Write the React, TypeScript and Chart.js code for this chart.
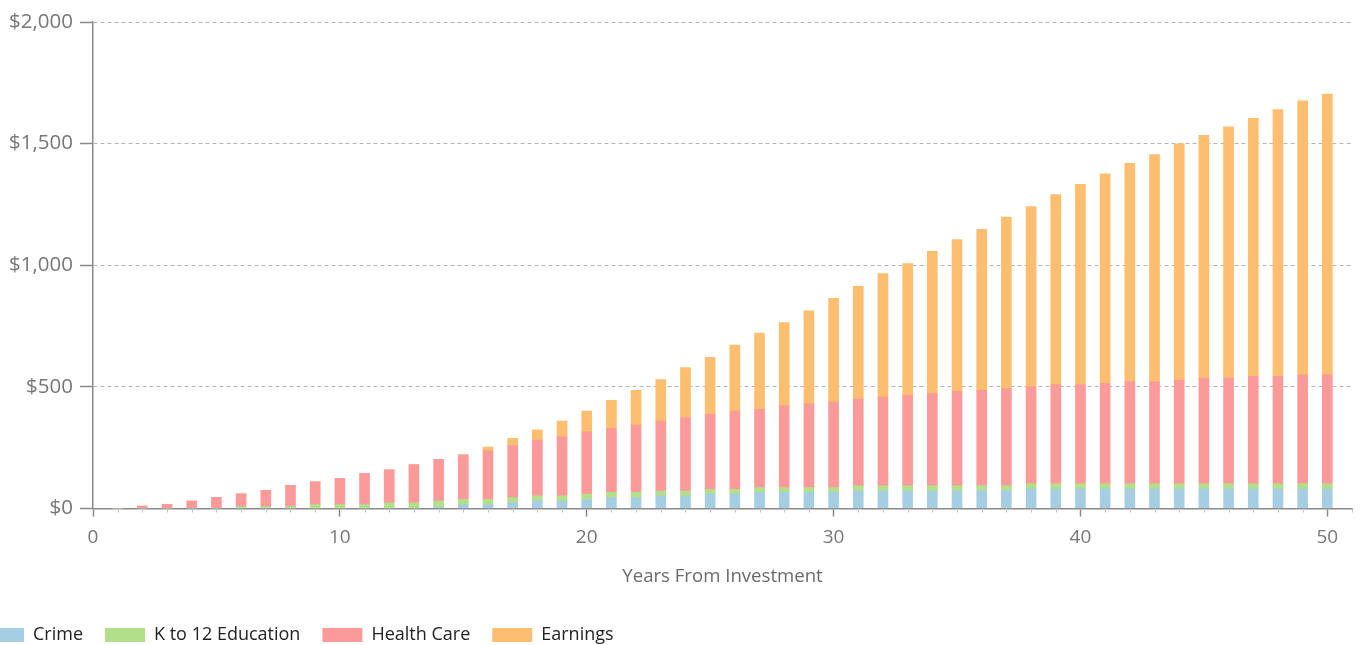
import { useEffect, useRef } from "react";
import { Chart, registerables } from "chart.js";

Chart.register(...registerables);

// Categories: years from investment
const years = [
  1, 2, 3, 4, 5, 6, 7, 8, 9, 10,
  11, 12, 13, 14, 15, 16, 17, 18, 19, 20,
  21, 22, 23, 24, 25, 26, 27, 28, 29, 30,
  31, 32, 33, 34, 35, 36, 37, 38, 39, 40,
  41, 42, 43, 44, 45, 46, 47, 48, 49, 50,
];

// Series values (dollars)
const crime = [
  0, 0, 0, 0, 0, 0, 0, 0, 0, 0,
  0, 0, 0, 6, 16, 16, 23, 30, 30, 37,
  45, 45, 52, 52, 59, 59, 66, 66, 66, 66,
  72, 72, 72, 72, 72, 74, 74, 80, 80, 80,
  80, 80, 80, 80, 80, 80, 80, 80, 80, 80,
];

const k12Education = [
  0, 0, 0, 0, 0, 8, 8, 8, 16, 16,
  16, 23, 23, 24, 22, 22, 22, 22, 22, 22,
  21, 21, 20, 20, 20, 20, 20, 20, 20, 20,
  21, 21, 21, 21, 21, 20, 20, 21, 21, 21,
  21, 21, 21, 21, 21, 21, 21, 21, 21, 21,
];

const healthCare = [
  0, 10, 17, 31, 46, 52, 67, 87, 94, 108,
  129, 136, 158, 172, 182, 199, 214, 229, 243, 256,
  264, 277, 287, 302, 308, 322, 322, 337, 344, 351,
  357, 365, 372, 379, 389, 392, 399, 399, 407, 407,
  414, 421, 421, 427, 435, 435, 442, 442, 449, 449,
];

const earnings = [
  0, 0, 0, 0, 0, 0, 0, 0, 0, 0,
  0, 0, 0, 0, 2, 15, 29, 42, 64, 86,
  115, 143, 171, 205, 234, 271, 313, 341, 383, 427,
  463, 508, 542, 585, 624, 662, 705, 741, 783, 825,
  861, 897, 933, 971, 998, 1033, 1061, 1097, 1126, 1154,
];

const seriesNames = ["Crime", "K to 12 Education", "Health Care", "Earnings"];
const seriesColors = ["#a6cee3", "#b2df8a", "#fb9a99", "#fdbf6f"];

// Axis ticks
const yTickValues = [0, 500, 1000, 1500, 2000];
const xTickValues = [0, 10, 20, 30, 40, 50];
const xAxisMax = 51;
const xAxisTitle = "Years From Investment";

const FONT = "'Open Sans', 'Noto Sans', sans-serif";

const minorTicksPlugin = {
  id: "minorTicks",
  afterDraw(chart: any) {
    const xs = chart.scales.x;
    const ctx = chart.ctx;
    const y0 = chart.chartArea.bottom;
    ctx.save();
    ctx.strokeStyle = "#c4c4c4";
    ctx.lineWidth = 1;
    ctx.beginPath();
    const vals = [...years, xAxisMax];
    for (const v of vals) {
      if (xTickValues.includes(v)) continue;
      const px = Math.round(xs.getPixelForValue(v)) + 0.5;
      ctx.moveTo(px, y0);
      ctx.lineTo(px, y0 + 4);
    }
    ctx.stroke();
    ctx.restore();
  },
};

export default function App() {
  const ref = useRef<HTMLCanvasElement>(null);

  useEffect(() => {
    document.body.style.margin = "0";
    const canvas = ref.current!;
    const seriesData = [crime, k12Education, healthCare, earnings];
    const datasets = seriesData.map((vals, si) => ({
      label: seriesNames[si],
      data: years.map((x, i) => ({ x, y: vals[i] })),
      backgroundColor: seriesColors[si],
      borderWidth: 0,
      barThickness: 10,
    }));

    const chart = new Chart(canvas, {
      type: "bar",
      data: { datasets: datasets as any },
      options: {
        animation: false,
        responsive: false,
        maintainAspectRatio: false,
        layout: { padding: { top: 22, right: 12, left: 0, bottom: 0 } },
        plugins: {
          legend: {
            display: true,
            position: "bottom",
            align: "start",
            labels: {
              boxWidth: 40,
              boxHeight: 14,
              padding: 22,
              color: "#222",
              font: { family: FONT, size: 18 },
            },
          },
          tooltip: { enabled: false },
        },
        scales: {
          x: {
            type: "linear",
            stacked: true,
            min: 0,
            max: xAxisMax,
            offset: false,
            afterFit: (s: any) => {
              s.height = 95.5;
            },
            afterBuildTicks: (s: any) => {
              s.ticks = xTickValues.map((v) => ({ value: v }));
            },
            ticks: {
              autoSkip: false,
              maxRotation: 0,
              padding: 10,
              color: "#777",
              font: { family: FONT, size: 19 },
            },
            grid: {
              display: true,
              offset: false,
              drawOnChartArea: false,
              drawTicks: true,
              tickLength: 8,
              tickColor: "#888",
              tickWidth: 1.5,
            },
            border: { display: true, color: "#8a8a8a", width: 1.5 },
            title: {
              display: true,
              text: xAxisTitle,
              color: "#6a6a6a",
              font: { family: FONT, size: 18.6 },
              padding: { top: 0, bottom: 16 },
            },
          },
          y: {
            type: "linear",
            stacked: true,
            min: 0,
            max: 2000,
            afterFit: (s: any) => {
              s.width = 131;
            },
            afterBuildTicks: (s: any) => {
              s.ticks = yTickValues.map((v) => ({ value: v }));
            },
            ticks: {
              padding: 7,
              color: "#777",
              font: { family: FONT, size: 20.5 },
              callback: (v: any) => "$" + Number(v).toLocaleString("en-US"),
            },
            grid: {
              display: true,
              drawOnChartArea: true,
              drawTicks: true,
              tickLength: 13,
              color: "#b4b4b4",
              lineWidth: 1,
              tickColor: "#888",
              tickWidth: 1.5,
              tickBorderDash: [],
            },
            border: { display: true, color: "#8a8a8a", width: 1.5, dash: [4, 3] },
          },
        },
      },
      plugins: [minorTicksPlugin],
    });

    return () => chart.destroy();
  }, []);

  return (
    <div style={{ width: 1364, height: 645, overflow: "hidden", position: "relative" }}>
      <canvas
        ref={ref}
        width={1402}
        height={654}
        style={{ display: "block", position: "absolute", left: -38, top: 0, width: 1402, height: 654 }}
      />
    </div>
  );
}
